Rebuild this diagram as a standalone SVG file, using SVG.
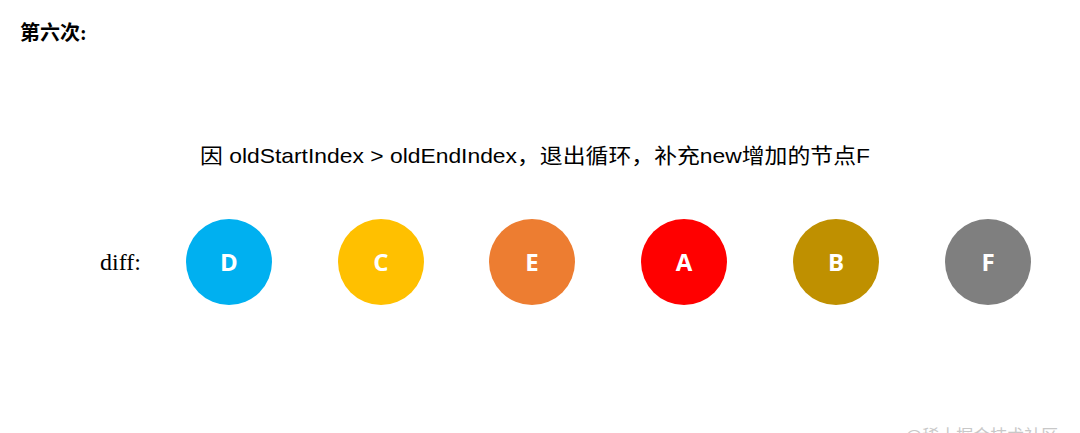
<svg xmlns="http://www.w3.org/2000/svg" width="1080" height="433" viewBox="0 0 1080 433">
<style>
.node text{font-family:"Open Sans","Liberation Sans",sans-serif;font-weight:bold;font-size:24px;fill:#fff;text-anchor:middle}
.serif{font-family:"Liberation Serif","Noto Sans CJK SC",serif;fill:#000}
.sans{font-family:"Liberation Sans","Noto Sans CJK SC",sans-serif;fill:#000}
</style>
<rect width="1080" height="433" fill="#fff"/>
<text class="serif" x="20" y="40" font-size="20" font-weight="bold">第六次:</text>
<text class="sans" x="200" y="163" font-size="21" textLength="670" lengthAdjust="spacingAndGlyphs">因 oldStartIndex &gt; oldEndIndex，退出循环，补充new增加的节点F</text>
<text class="serif" x="100" y="270" font-size="24">diff:</text>
<g id="node-D" class="node"><circle cx="229" cy="262" r="43" fill="#00B0F0"/><text x="229" y="271">D</text></g>
<g id="node-C" class="node"><circle cx="381" cy="262" r="43" fill="#FFC000"/><text x="381" y="271">C</text></g>
<g id="node-E" class="node"><circle cx="532" cy="262" r="43" fill="#ED7D31"/><text x="532" y="271">E</text></g>
<g id="node-A" class="node"><circle cx="684" cy="262" r="43" fill="#FF0000"/><text x="684" y="271">A</text></g>
<g id="node-B" class="node"><circle cx="836" cy="262" r="43" fill="#BF9000"/><text x="836" y="271">B</text></g>
<g id="node-F" class="node"><circle cx="988" cy="262" r="43" fill="#7F7F7F"/><text x="988" y="271">F</text></g>
<g id="connectors"/>
<text class="sans" x="905" y="442" font-size="17" style="fill:#c8c8c8">@稀土掘金技术社区</text>
</svg>
